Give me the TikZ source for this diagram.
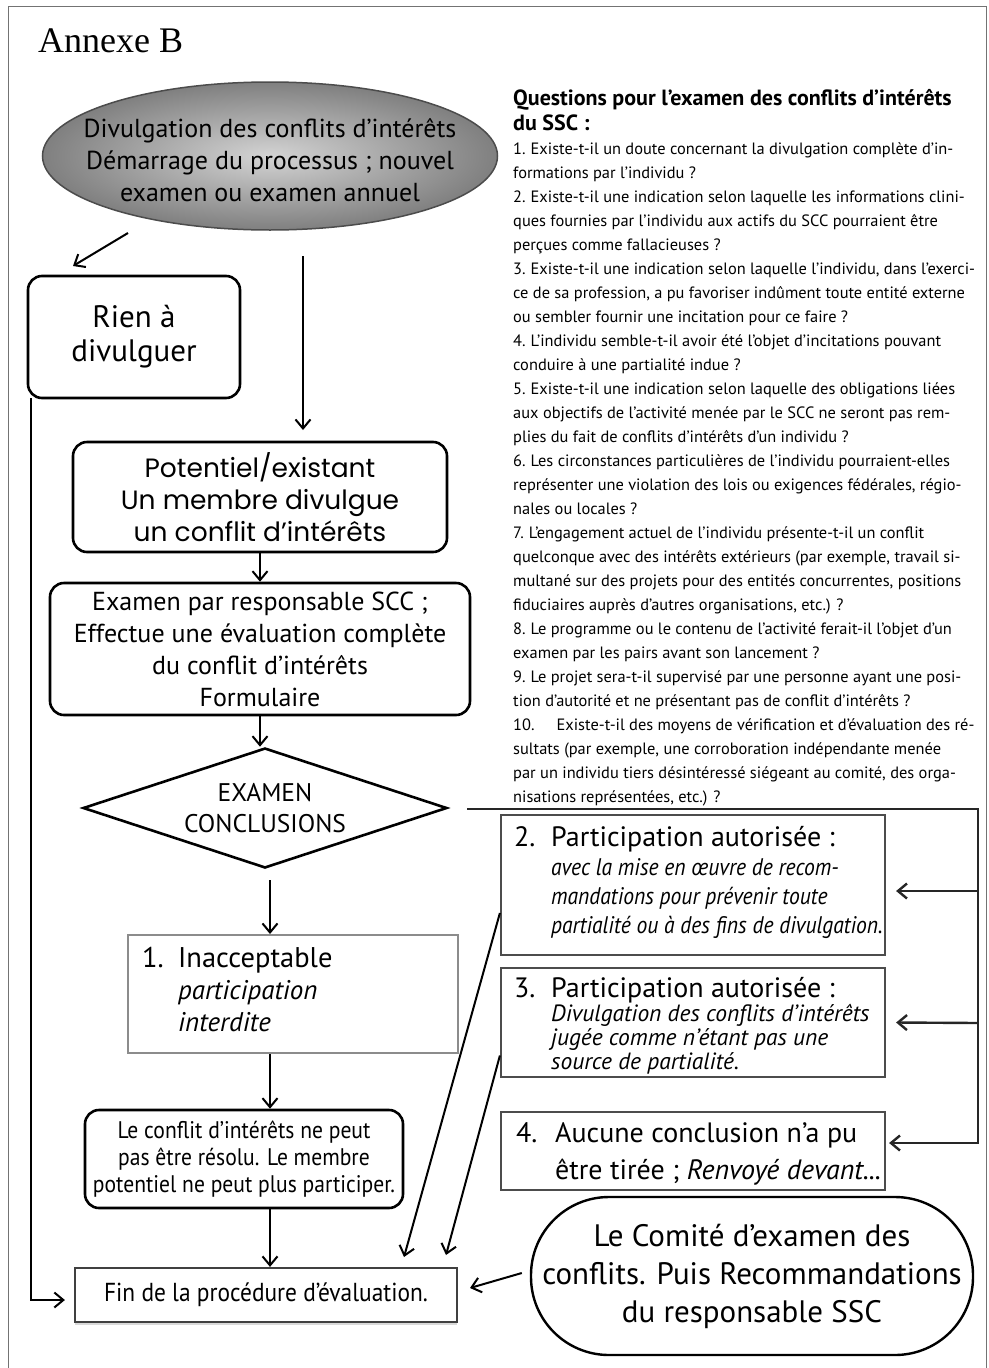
\documentclass[tikz,border=0pt]{standalone}
\usepackage{fontspec}
\setmainfont{PT Sans}
\newfontfamily\annexfont{Liberation Serif}
\newfontfamily\geofont{Poppins}
\newfontfamily\semifont[FakeStretch=0.9]{PT Sans}
\usetikzlibrary{shapes.geometric,arrows.meta,shadows}
\lineskiplimit=-100pt
\newcommand{\fs}[2]{\fontsize{#1}{#2}\selectfont}

\tikzstyle{evS}=[ellipse,draw=black!70,line width=1.5pt,minimum width=455pt,minimum height=148pt,inner sep=0pt,inner color=black!17,outer color=black!50]
\tikzstyle{cS}=[inner sep=0pt,align=center]
\tikzstyle{tS}=[inner sep=0pt,align=left]
\tikzstyle{rB}=[draw,line width=2.6pt,rounded corners=14pt,inner sep=0pt,align=center]
\tikzstyle{sB}=[draw=black!70,fill=white,line width=2.2pt,inner sep=0pt]
\tikzstyle{gB}=[draw=black!45,fill=white,line width=2pt,inner sep=0pt]
\tikzstyle{dS}=[diamond,aspect=3,draw,line width=2.6pt,minimum width=364pt,minimum height=120pt,inner sep=0pt,align=center]
\tikzstyle{eA}=[line width=2pt,-{Straight Barb[length=9pt,width=15pt]}]
\tikzstyle{lS}=[line width=2.4pt,draw=black!85]

\begin{document}
\begin{tikzpicture}[x=1pt,y=-1pt]
    \useasboundingbox (0,0) rectangle (988,1368);
    \draw[black!55,line width=1pt] (8,1368) -- (8,6) -- (986,6) -- (986,1368);

    \draw (38,52) node[anchor=base west,inner sep=0pt,font=\annexfont\fs{36}{40}] (annex) {Annexe B};

    % depart du processus
    \draw (270,156) node[evS] (start) {};
    \draw (270,160) node[cS,font=\fs{26}{32}] (startT) {Divulgation des conflits d’intérêts\\Démarrage du processus ; nouvel\\examen ou examen annuel};

    \draw (134,337) node[rB,minimum width=212pt,minimum height=122pt,font=\fs{31}{34}] (rien) {Rien à\\divulguer};
    \draw (260,497) node[rB,minimum width=374pt,minimum height=110pt,font=\geofont\fs{26.5}{32}] (pot) {Potentiel/existant\\Un membre divulgue\\un conflit d’intérêts};
    \draw (260,649) node[rB,minimum width=420pt,minimum height=132pt,font=\fs{26}{32}] (exa) {Examen par responsable SCC ;\\Effectue une évaluation complète\\du conflit d’intérêts\\Formulaire};
    \draw (265,808) node[dS,font=\fs{25.5}{31}] (dia) {EXAMEN\\CONCLUSIONS};

    % conclusions
    \draw (293,994) node[gB,minimum width=330pt,minimum height=118pt,drop shadow={shadow xshift=1pt,shadow yshift=-1pt,opacity=.25}] (b1) {};
    \draw (142,947) node[tS,anchor=north west,font=\fs{28.5}{32}] (b1t) {\makebox[36pt][l]{1.}Inacceptable\\\hspace*{36pt}{\itshape\fs{27}{32}participation}\\\hspace*{36pt}{\itshape\fs{27}{32}interdite}};
    \draw (693,885) node[sB,minimum width=384pt,minimum height=140pt] (b2) {};
    \draw (514,826) node[tS,anchor=north west,font=\fs{28}{29}] (b2t) {\makebox[37pt][l]{2.}Participation autorisée :\\\hspace*{37pt}{\semifont\itshape\fs{24}{29}avec la mise en œuvre de recom-}\\\hspace*{37pt}{\semifont\itshape\fs{24}{29}mandations pour prévenir toute}\\\hspace*{37pt}{\semifont\itshape\fs{24}{29}partialité ou à des fins de divulgation.}};
    \draw (693,1022.5) node[sB,minimum width=384pt,minimum height=109pt] (b3) {};
    \draw (514,977) node[tS,anchor=north west,font=\fs{28}{24}] (b3t) {\makebox[37pt][l]{3.}Participation autorisée :\\\hspace*{37pt}{\itshape\fs{23.5}{24}Divulgation des conflits d’intérêts}\\\hspace*{37pt}{\itshape\fs{23.5}{24}jugée comme n’étant pas une}\\\hspace*{37pt}{\itshape\fs{23.5}{24}source de partialité.}};
    \draw (693,1151) node[sB,minimum width=384pt,minimum height=78pt] (b4) {};
    \draw (516,1122) node[tS,anchor=north west,font=\fs{28}{37}] (b4t) {\makebox[39pt][l]{4.}Aucune conclusion n’a pu\\\hspace*{39pt}être tirée ; \textit{Renvoyé devant...}};

    \draw (244,1159) node[rB,minimum width=318pt,minimum height=98pt,font=\semifont\fs{24}{27}] (cf) {Le conflit d’intérêts ne peut\\pas être résolu. Le membre\\potentiel ne peut plus participer.};
    \draw (266,1295) node[sB,draw=black!75,minimum width=382pt,minimum height=54pt,font=\semifont\fs{26}{30},drop shadow={shadow xshift=0pt,shadow yshift=-3pt,opacity=.3}] (fin) {Fin de la procédure d’évaluation.};
    \draw (752,1276) node[draw,line width=2.4pt,rounded corners=78pt,minimum width=442pt,minimum height=158pt,inner sep=0pt,align=center,font=\fs{31}{38}] (com) {Le Comité d’examen des\\conflits. Puis Recommandations\\du responsable SSC};

    % questions
    \draw (513,89.5) node[tS,anchor=north west,font=\bfseries\fs{22}{25}] (qT) {Questions pour l’examen des conflits d’intérêts\\du SSC :};
    \draw (513,142.5) node[tS,anchor=north west,font=\fs{16.4}{24}] (qL) {1.\hspace{5pt}Existe-t-il un doute concernant la divulgation complète d’in-\\
formations par l’individu ?\\
2.\hspace{5pt}Existe-t-il une indication selon laquelle les informations clini-\\
ques fournies par l’individu aux actifs du SCC pourraient être\\
perçues comme fallacieuses ?\\
3.\hspace{5pt}Existe-t-il une indication selon laquelle l’individu, dans l’exerci-\\
ce de sa profession, a pu favoriser indûment toute entité externe\\
ou sembler fournir une incitation pour ce faire ?\\
4.\hspace{5pt}L’individu semble-t-il avoir été l’objet d’incitations pouvant\\
conduire à une partialité indue ?\\
5.\hspace{5pt}Existe-t-il une indication selon laquelle des obligations liées\\
aux objectifs de l’activité menée par le SCC ne seront pas rem-\\
plies du fait de conflits d’intérêts d’un individu ?\\
6.\hspace{5pt}Les circonstances particulières de l’individu pourraient-elles\\
représenter une violation des lois ou exigences fédérales, régio-\\
nales ou locales ?\\
7.\hspace{5pt}L’engagement actuel de l’individu présente-t-il un conflit\\
quelconque avec des intérêts extérieurs (par exemple, travail si-\\
multané sur des projets pour des entités concurrentes, positions\\
fiduciaires auprès d’autres organisations, etc.) ?\\
8.\hspace{5pt}Le programme ou le contenu de l’activité ferait-il l’objet d’un\\
examen par les pairs avant son lancement ?\\
9.\hspace{5pt}Le projet sera-t-il supervisé par une personne ayant une posi-\\
tion d’autorité et ne présentant pas de conflit d’intérêts ?\\
10.\hspace{22pt}Existe-t-il des moyens de vérification et d’évaluation des ré-\\
sultats (par exemple, une corroboration indépendante menée\\
par un individu tiers désintéressé siégeant au comité, des orga-\\
nisations représentées, etc.) ?};

    % bouts libres des fleches
    \coordinate (s1) at (128,233);
    \coordinate (t1) at (73,266);
    \coordinate (s2) at (303,256);
    \coordinate (t2) at (303,430);
    \coordinate (d1) at (270,880);
    \coordinate (rl) at (31,398);
    \coordinate (f2) at (404,1257);
    \coordinate (f3) at (446,1255);
    \coordinate (f4) at (470,1288);
    \coordinate (r0) at (467,809);
    \coordinate (r1) at (978,809);
    \coordinate (r2) at (978,891);
    \coordinate (r3) at (978,1023);

    \path
        (s1) edge[eA] (t1)
        (s2) edge[eA] (t2)
        (pot.south) edge[eA] (exa.north)
        (exa.south) edge[eA] (exa.south |- dia.north)
        (d1) edge[eA] (d1 |- b1.north)
        (d1 |- b1.south) edge[eA] (d1 |- cf.north)
        (d1 |- cf.south) edge[eA] (d1 |- fin.north)
        ([yshift=-28pt]b2.west) edge[eA] (f2)
        ([yshift=-33pt]b3.west) edge[eA] (f3)
        ([xshift=-8pt,yshift=3pt]com.west) edge[eA] (f4)
        (r2) edge[eA,lS] ([xshift=10pt,yshift=-6pt]b2.east)
        (r3) edge[eA,lS] ([xshift=10pt]b3.east)
    ;
    \draw[eA,lS] (r0) -- (r1) |- ([xshift=3pt,yshift=8pt]b4.east);
    \draw[eA] (rl) |- ([xshift=-9pt,yshift=-5pt]fin.west);
\end{tikzpicture}
\end{document}
